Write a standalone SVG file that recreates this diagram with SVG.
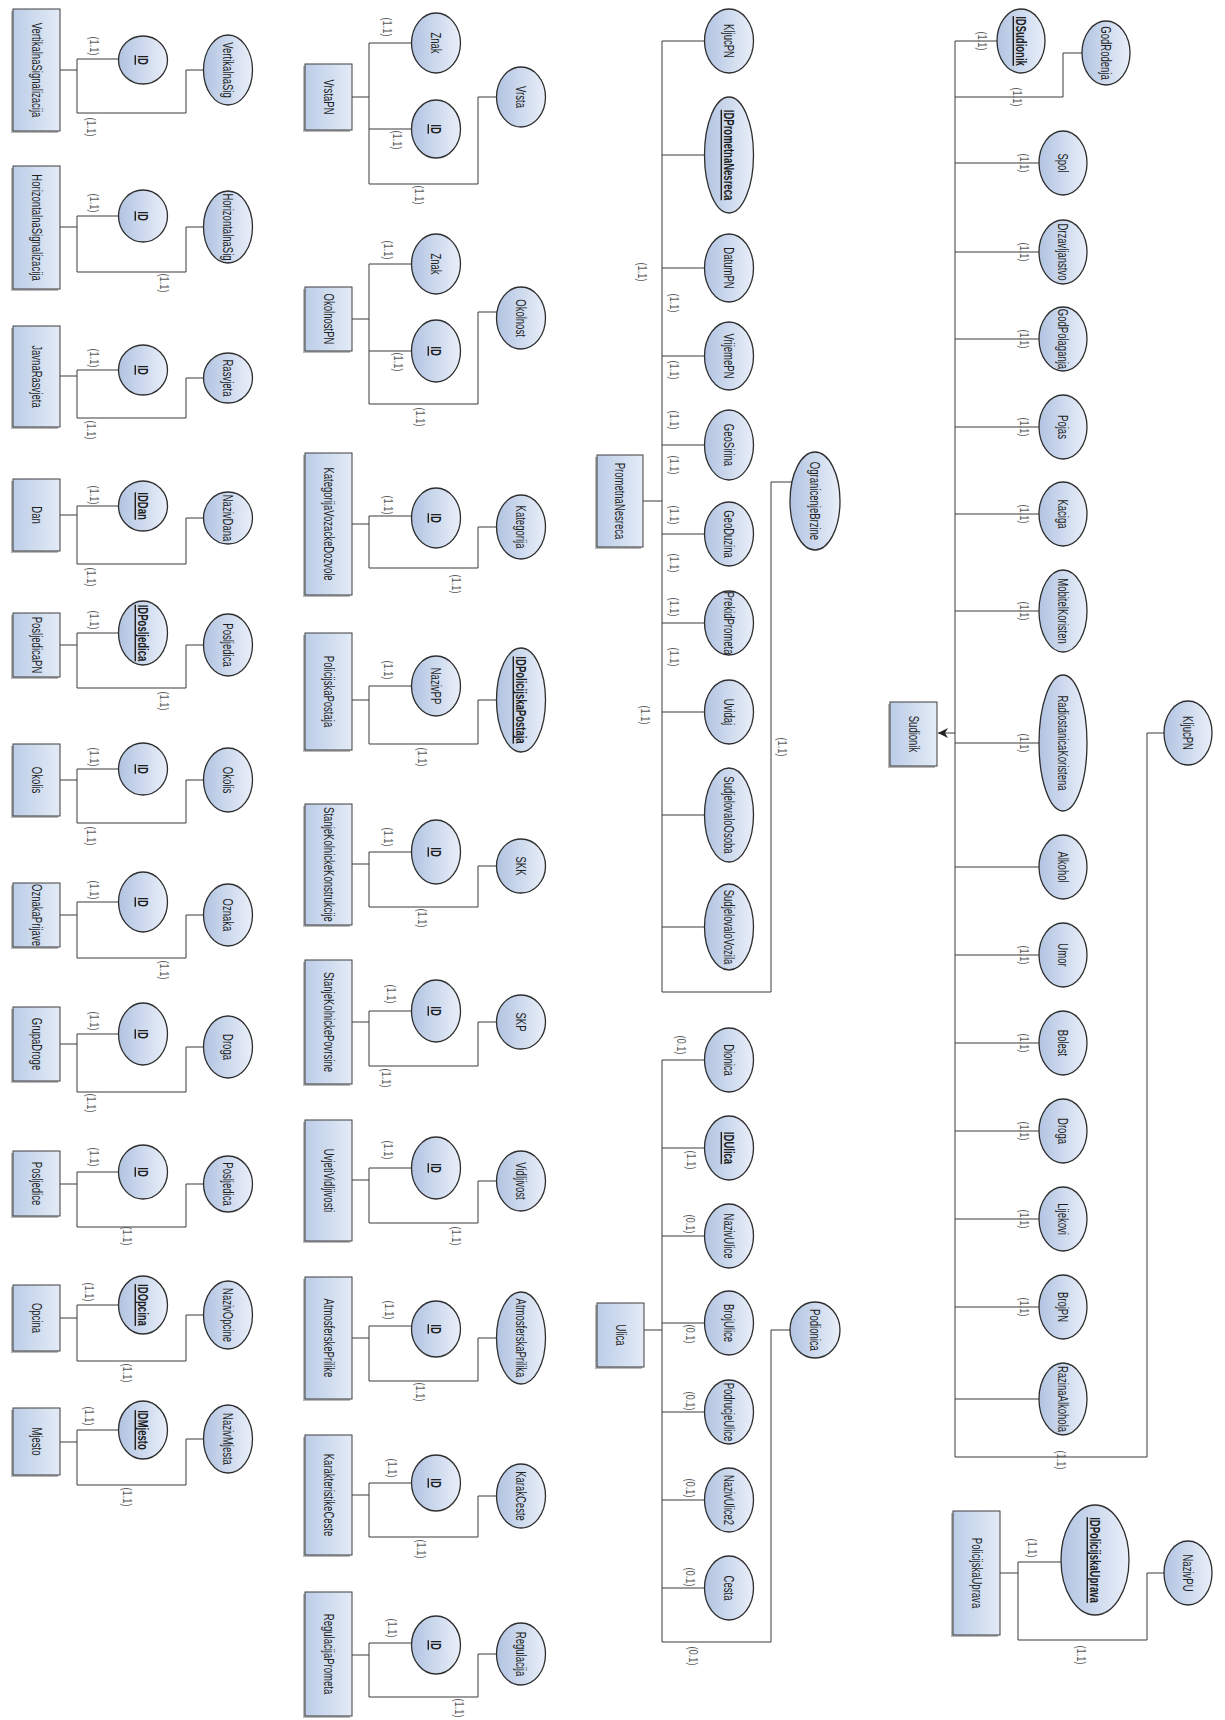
<svg xmlns="http://www.w3.org/2000/svg" width="1225" height="1720" viewBox="0 0 1225 1720">
<defs>
<linearGradient id="ga" x1="0" y1="0" x2="1" y2="0"><stop offset="0" stop-color="#b2c4e2"/><stop offset="1" stop-color="#e9eff9"/></linearGradient>
<linearGradient id="gb" x1="0" y1="0" x2="1" y2="0"><stop offset="0" stop-color="#bccde8"/><stop offset="1" stop-color="#e3ebf6"/></linearGradient>
<marker id="arr" viewBox="0 0 10 10" refX="10" refY="5" markerWidth="12" markerHeight="10" markerUnits="userSpaceOnUse" orient="auto"><path d="M0,0 L10,5 L0,10 L3,5 Z" fill="#222"/></marker>
<style>
.sh{fill:#7f7f7f;opacity:.55}
.bx{fill:url(#gb);stroke:#3f3f3f;stroke-width:1}
.at{fill:url(#ga);stroke:#2e2e2e;stroke-width:1.3}
.t{font-family:"Liberation Sans",Arial,sans-serif;font-size:14px;fill:#1e1e1e;text-anchor:middle;dominant-baseline:central}
.k{font-weight:bold;text-decoration:underline}
.c{font-family:"Liberation Sans",Arial,sans-serif;font-size:13px;fill:#5a5a5a;text-anchor:middle;dominant-baseline:central}
.ln{fill:none;stroke:#3a3a3a;stroke-width:1}
</style>
</defs>
<rect width="1225" height="1720" fill="#fff"/>

<g id="connectors" class="ln">
<!-- column 1 -->
<path d="M60 70H77M77 59V113M77 59H118.5M77 113H186V70H203.5"/>
<path d="M60 227H77M77 216V272M77 216H118.5M77 272H186V227H203.5"/>
<path d="M60 376H77M77 370V418M77 370H118.5M77 418H186V378H203.5"/>
<path d="M60 515H77M77 506V564M77 506H118.5M77 564H186V518H203.5"/>
<path d="M60 645H77M77 633V688M77 633H118.5M77 688H186V645H203.5"/>
<path d="M60 780H77M77 769V823M77 769H118.5M77 823H186V780H203.5"/>
<path d="M60 915H77M77 902V958M77 902H118.5M77 958H186V915H203.5"/>
<path d="M60 1044H77M77 1034V1092M77 1034H118.5M77 1092H186V1047H203.5"/>
<path d="M60 1184H77M77 1172V1227M77 1172H118.5M77 1227H186V1184H203.5"/>
<path d="M60 1318H77M77 1305V1361M77 1305H118.5M77 1361H186V1315H203.5"/>
<path d="M60 1442H77M77 1430V1485M77 1430H118.5M77 1485H186V1439H203.5"/>
<!-- column 2 -->
<path d="M352 97H369M369 43V184M369 43H412M369 129H412M369 184H478V97H497"/>
<path d="M352 319H369M369 264V404M369 264H412M369 351H412M369 404H478V312H497"/>
<path d="M352 524H369M369 516V568M369 516H412M369 568H478V527H497"/>
<path d="M352 700H369M369 686V744M369 686H412M369 744H478V700H497"/>
<path d="M352 864H369M369 852V907M369 852H412M369 907H478V866H497"/>
<path d="M352 1022H369M369 1011V1066M369 1011H412M369 1066H478V1022H497"/>
<path d="M352 1180H369M369 1168V1223M369 1168H412M369 1223H478V1181H497"/>
<path d="M352 1338H369M369 1326V1381M369 1326H412M369 1381H478V1338H497"/>
<path d="M352 1495H369M369 1483V1537M369 1483H412M369 1537H478V1496H497"/>
<path d="M352 1655H369M369 1643V1697M369 1643H412M369 1697H478V1654H497"/>
<!-- PrometnaNesreca -->
<path d="M643 501H662M662 41V992H771V482H792M662 41H704.5M662 155H704.5M662 268H704.5M662 356H704.5M662 445H704.5M662 534H704.5M662 623H704.5M662 712H704.5M662 815H704.5M662 927H704.5"/>
<!-- Ulica -->
<path d="M644 1330H662M662 1060V1642H771V1330H790M662 1060H704.5M662 1148H704.5M662 1236H704.5M662 1323H704.5M662 1412H704.5M662 1500H704.5M662 1588H704.5"/>
<!-- Sudionik -->
<path d="M955 41V1457H1147V733H1164M955 41H997M955 97H1063V53H1082M955 163H1039M955 252H1039M955 339H1039M955 427H1039M955 514H1039M955 611H1039M955 743H1039M955 867H1039M955 955H1039M955 1043H1039M955 1131H1039M955 1219H1039M955 1307H1039M955 1399H1039"/>
<path d="M955 733H938" marker-end="url(#arr)"/>
<!-- PolicijskaUprava -->
<path d="M1000 1573H1018M1018 1562V1640H1147V1573H1164M1018 1562H1061"/>
</g>

<g id="cardinalities">
<text class="c" transform="translate(95 46) rotate(90) scale(.72 1)">(1.1)</text>
<text class="c" transform="translate(92 127) rotate(90) scale(.72 1)">(1.1)</text>
<text class="c" transform="translate(95 203) rotate(90) scale(.72 1)">(1.1)</text>
<text class="c" transform="translate(165 283) rotate(90) scale(.72 1)">(1.1)</text>
<text class="c" transform="translate(95 358) rotate(90) scale(.72 1)">(1.1)</text>
<text class="c" transform="translate(92 430) rotate(90) scale(.72 1)">(1.1)</text>
<text class="c" transform="translate(95 495) rotate(90) scale(.72 1)">(1.1)</text>
<text class="c" transform="translate(92 577) rotate(90) scale(.72 1)">(1.1)</text>
<text class="c" transform="translate(95 620) rotate(90) scale(.72 1)">(1.1)</text>
<text class="c" transform="translate(165 701) rotate(90) scale(.72 1)">(1.1)</text>
<text class="c" transform="translate(95 757) rotate(90) scale(.72 1)">(1.1)</text>
<text class="c" transform="translate(92 836) rotate(90) scale(.72 1)">(1.1)</text>
<text class="c" transform="translate(95 890) rotate(90) scale(.72 1)">(1.1)</text>
<text class="c" transform="translate(165 970) rotate(90) scale(.72 1)">(1.1)</text>
<text class="c" transform="translate(95 1021) rotate(90) scale(.72 1)">(1.1)</text>
<text class="c" transform="translate(92 1103) rotate(90) scale(.72 1)">(1.1)</text>
<text class="c" transform="translate(95 1157) rotate(90) scale(.72 1)">(1.1)</text>
<text class="c" transform="translate(128 1236) rotate(90) scale(.72 1)">(1.1)</text>
<text class="c" transform="translate(90 1292) rotate(90) scale(.72 1)">(1.1)</text>
<text class="c" transform="translate(128 1373) rotate(90) scale(.72 1)">(1.1)</text>
<text class="c" transform="translate(90 1416) rotate(90) scale(.72 1)">(1.1)</text>
<text class="c" transform="translate(128 1497) rotate(90) scale(.72 1)">(1.1)</text>

<text class="c" transform="translate(388 27) rotate(90) scale(.72 1)">(1.1)</text>
<text class="c" transform="translate(398 140) rotate(90) scale(.72 1)">(1.1)</text>
<text class="c" transform="translate(420 195) rotate(90) scale(.72 1)">(1.1)</text>
<text class="c" transform="translate(389 250) rotate(90) scale(.72 1)">(1.1)</text>
<text class="c" transform="translate(399 362) rotate(90) scale(.72 1)">(1.1)</text>
<text class="c" transform="translate(421 417) rotate(90) scale(.72 1)">(1.1)</text>
<text class="c" transform="translate(389 505) rotate(90) scale(.72 1)">(1.1)</text>
<text class="c" transform="translate(457 584) rotate(90) scale(.72 1)">(1.1)</text>
<text class="c" transform="translate(389 670) rotate(90) scale(.72 1)">(1.1)</text>
<text class="c" transform="translate(423 757) rotate(90) scale(.72 1)">(1.1)</text>
<text class="c" transform="translate(389 837) rotate(90) scale(.72 1)">(1.1)</text>
<text class="c" transform="translate(423 918) rotate(90) scale(.72 1)">(1.1)</text>
<text class="c" transform="translate(392 994) rotate(90) scale(.72 1)">(1.1)</text>
<text class="c" transform="translate(387 1078) rotate(90) scale(.72 1)">(1.1)</text>
<text class="c" transform="translate(389 1150) rotate(90) scale(.72 1)">(1.1)</text>
<text class="c" transform="translate(457 1236) rotate(90) scale(.72 1)">(1.1)</text>
<text class="c" transform="translate(390 1310) rotate(90) scale(.72 1)">(1.1)</text>
<text class="c" transform="translate(421 1392) rotate(90) scale(.72 1)">(1.1)</text>
<text class="c" transform="translate(393 1468) rotate(90) scale(.72 1)">(1.1)</text>
<text class="c" transform="translate(422 1549) rotate(90) scale(.72 1)">(1.1)</text>
<text class="c" transform="translate(393 1628) rotate(90) scale(.72 1)">(1.1)</text>
<text class="c" transform="translate(460 1708) rotate(90) scale(.72 1)">(1.1)</text>

<text class="c" transform="translate(643 272) rotate(90) scale(.72 1)">(1.1)</text>
<text class="c" transform="translate(675 303) rotate(90) scale(.72 1)">(1.1)</text>
<text class="c" transform="translate(675 370) rotate(90) scale(.72 1)">(1.1)</text>
<text class="c" transform="translate(675 420) rotate(90) scale(.72 1)">(1.1)</text>
<text class="c" transform="translate(675 465) rotate(90) scale(.72 1)">(1.1)</text>
<text class="c" transform="translate(675 515) rotate(90) scale(.72 1)">(1.1)</text>
<text class="c" transform="translate(675 563) rotate(90) scale(.72 1)">(1.1)</text>
<text class="c" transform="translate(675 607) rotate(90) scale(.72 1)">(1.1)</text>
<text class="c" transform="translate(675 657) rotate(90) scale(.72 1)">(1.1)</text>
<text class="c" transform="translate(646 715) rotate(90) scale(.72 1)">(1.1)</text>
<text class="c" transform="translate(783 747) rotate(90) scale(.72 1)">(1.1)</text>

<text class="c" transform="translate(682 1045) rotate(90) scale(.72 1)">(0.1)</text>
<text class="c" transform="translate(692 1160) rotate(90) scale(.72 1)">(1.1)</text>
<text class="c" transform="translate(691 1224) rotate(90) scale(.72 1)">(0.1)</text>
<text class="c" transform="translate(691 1334) rotate(90) scale(.72 1)">(0.1)</text>
<text class="c" transform="translate(691 1401) rotate(90) scale(.72 1)">(0.1)</text>
<text class="c" transform="translate(691 1488) rotate(90) scale(.72 1)">(0.1)</text>
<text class="c" transform="translate(691 1577) rotate(90) scale(.72 1)">(0.1)</text>
<text class="c" transform="translate(694 1656) rotate(90) scale(.72 1)">(0.1)</text>

<text class="c" transform="translate(983 41) rotate(90) scale(.72 1)">(1.1)</text>
<text class="c" transform="translate(1018 97) rotate(90) scale(.72 1)">(1.1)</text>
<text class="c" transform="translate(1025 163) rotate(90) scale(.72 1)">(1.1)</text>
<text class="c" transform="translate(1025 252) rotate(90) scale(.72 1)">(1.1)</text>
<text class="c" transform="translate(1025 339) rotate(90) scale(.72 1)">(1.1)</text>
<text class="c" transform="translate(1025 427) rotate(90) scale(.72 1)">(1.1)</text>
<text class="c" transform="translate(1025 514) rotate(90) scale(.72 1)">(1.1)</text>
<text class="c" transform="translate(1025 611) rotate(90) scale(.72 1)">(1.1)</text>
<text class="c" transform="translate(1025 743) rotate(90) scale(.72 1)">(1.1)</text>
<text class="c" transform="translate(1025 955) rotate(90) scale(.72 1)">(1.1)</text>
<text class="c" transform="translate(1025 1043) rotate(90) scale(.72 1)">(1.1)</text>
<text class="c" transform="translate(1025 1131) rotate(90) scale(.72 1)">(1.1)</text>
<text class="c" transform="translate(1025 1219) rotate(90) scale(.72 1)">(1.1)</text>
<text class="c" transform="translate(1025 1307) rotate(90) scale(.72 1)">(1.1)</text>
<text class="c" transform="translate(1062 1460) rotate(90) scale(.72 1)">(1.1)</text>
<text class="c" transform="translate(1033 1548) rotate(90) scale(.72 1)">(1.1)</text>
<text class="c" transform="translate(1082 1655) rotate(90) scale(.72 1)">(1.1)</text>
</g>

<!-- ===== Column 1 ===== -->
<g id="VertikalnaSignalizacija">
<rect class="sh" x="11" y="11" width="47" height="122"/><rect class="bx" x="13" y="9" width="47" height="122"/>
<text class="t" transform="translate(36.5 70) rotate(90) scale(.68 1)">VertikalnaSignalizacija</text>
<ellipse class="at" cx="143" cy="60" rx="24.5" ry="24"/><text class="t k" transform="translate(143 60) rotate(90) scale(.68 1)">ID</text>
<ellipse class="at" cx="228" cy="70" rx="24.5" ry="35"/><text class="t" transform="translate(228 70) rotate(90) scale(.68 1)">VertikalnaSig</text>
</g>
<g id="HorizontalnaSignalizacija">
<rect class="sh" x="11" y="168" width="47" height="123"/><rect class="bx" x="13" y="166" width="47" height="123"/>
<text class="t" transform="translate(36.5 227.5) rotate(90) scale(.68 1)">HorizontalnaSignalizacija</text>
<ellipse class="at" cx="143" cy="216" rx="24.5" ry="26"/><text class="t k" transform="translate(143 216) rotate(90) scale(.68 1)">ID</text>
<ellipse class="at" cx="228" cy="227" rx="24.5" ry="36"/><text class="t" transform="translate(228 227) rotate(90) scale(.68 1)">HorizontalnaSig</text>
</g>
<g id="JavnaRasvjeta">
<rect class="sh" x="11" y="328" width="47" height="101"/><rect class="bx" x="13" y="326" width="47" height="101"/>
<text class="t" transform="translate(36.5 376.5) rotate(90) scale(.68 1)">JavnaRasvjeta</text>
<ellipse class="at" cx="143" cy="370" rx="24.5" ry="25"/><text class="t k" transform="translate(143 370) rotate(90) scale(.68 1)">ID</text>
<ellipse class="at" cx="228" cy="378" rx="24.5" ry="25"/><text class="t" transform="translate(228 378) rotate(90) scale(.68 1)">Rasvjeta</text>
</g>
<g id="Dan">
<rect class="sh" x="11" y="481" width="47" height="72"/><rect class="bx" x="13" y="479" width="47" height="72"/>
<text class="t" transform="translate(36.5 515) rotate(90) scale(.68 1)">Dan</text>
<ellipse class="at" cx="143" cy="506" rx="24.5" ry="25"/><text class="t k" transform="translate(143 506) rotate(90) scale(.68 1)">IDDan</text>
<ellipse class="at" cx="228" cy="518" rx="24.5" ry="26"/><text class="t" transform="translate(228 518) rotate(90) scale(.68 1)">NazivDana</text>
</g>
<g id="PosljedicaPN">
<rect class="sh" x="11" y="615" width="47" height="64"/><rect class="bx" x="13" y="613" width="47" height="64"/>
<text class="t" transform="translate(36.5 645) rotate(90) scale(.68 1)">PosljedicaPN</text>
<ellipse class="at" cx="143" cy="633" rx="24.5" ry="32"/><text class="t k" transform="translate(143 633) rotate(90) scale(.68 1)">IDPosljedica</text>
<ellipse class="at" cx="228" cy="645" rx="24.5" ry="31"/><text class="t" transform="translate(228 645) rotate(90) scale(.68 1)">Posljedica</text>
</g>
<g id="Okolis">
<rect class="sh" x="11" y="746" width="47" height="72"/><rect class="bx" x="13" y="744" width="47" height="72"/>
<text class="t" transform="translate(36.5 780) rotate(90) scale(.68 1)">Okolis</text>
<ellipse class="at" cx="143" cy="769" rx="24.5" ry="26"/><text class="t k" transform="translate(143 769) rotate(90) scale(.68 1)">ID</text>
<ellipse class="at" cx="228" cy="780" rx="24.5" ry="32"/><text class="t" transform="translate(228 780) rotate(90) scale(.68 1)">Okolis</text>
</g>
<g id="OznakaPrijave">
<rect class="sh" x="11" y="885" width="47" height="64"/><rect class="bx" x="13" y="883" width="47" height="64"/>
<text class="t" transform="translate(36.5 915) rotate(90) scale(.68 1)">OznakaPrijave</text>
<ellipse class="at" cx="143" cy="902" rx="24.5" ry="30"/><text class="t k" transform="translate(143 902) rotate(90) scale(.68 1)">ID</text>
<ellipse class="at" cx="228" cy="915" rx="24.5" ry="31"/><text class="t" transform="translate(228 915) rotate(90) scale(.68 1)">Oznaka</text>
</g>
<g id="GrupaDroge">
<rect class="sh" x="11" y="1009" width="47" height="74"/><rect class="bx" x="13" y="1007" width="47" height="74"/>
<text class="t" transform="translate(36.5 1044) rotate(90) scale(.68 1)">GrupaDroge</text>
<ellipse class="at" cx="143" cy="1034" rx="24.5" ry="31"/><text class="t k" transform="translate(143 1034) rotate(90) scale(.68 1)">ID</text>
<ellipse class="at" cx="228" cy="1047" rx="24.5" ry="31"/><text class="t" transform="translate(228 1047) rotate(90) scale(.68 1)">Droga</text>
</g>
<g id="Posljedice">
<rect class="sh" x="11" y="1153" width="47" height="65"/><rect class="bx" x="13" y="1151" width="47" height="65"/>
<text class="t" transform="translate(36.5 1183.5) rotate(90) scale(.68 1)">Posljedice</text>
<ellipse class="at" cx="143" cy="1172" rx="24.5" ry="27"/><text class="t k" transform="translate(143 1172) rotate(90) scale(.68 1)">ID</text>
<ellipse class="at" cx="228" cy="1184" rx="24.5" ry="28"/><text class="t" transform="translate(228 1184) rotate(90) scale(.68 1)">Posljedica</text>
</g>
<g id="Opcina">
<rect class="sh" x="11" y="1287" width="47" height="66"/><rect class="bx" x="13" y="1285" width="47" height="66"/>
<text class="t" transform="translate(36.5 1318) rotate(90) scale(.68 1)">Opcina</text>
<ellipse class="at" cx="143" cy="1305" rx="24.5" ry="29"/><text class="t k" transform="translate(143 1305) rotate(90) scale(.68 1)">IDOpcina</text>
<ellipse class="at" cx="228" cy="1315" rx="24.5" ry="34"/><text class="t" transform="translate(228 1315) rotate(90) scale(.68 1)">NazivOpcine</text>
</g>
<g id="Mjesto">
<rect class="sh" x="11" y="1410" width="47" height="67"/><rect class="bx" x="13" y="1408" width="47" height="67"/>
<text class="t" transform="translate(36.5 1441.5) rotate(90) scale(.68 1)">Mjesto</text>
<ellipse class="at" cx="143" cy="1430" rx="24.5" ry="29"/><text class="t k" transform="translate(143 1430) rotate(90) scale(.68 1)">IDMjesto</text>
<ellipse class="at" cx="228" cy="1439" rx="24.5" ry="34"/><text class="t" transform="translate(228 1439) rotate(90) scale(.68 1)">NazivMjesta</text>
</g>

<!-- ===== Column 2 ===== -->
<g id="VrstaPN">
<rect class="sh" x="303" y="66" width="47" height="66"/><rect class="bx" x="305" y="64" width="47" height="66"/>
<text class="t" transform="translate(328.5 97) rotate(90) scale(.68 1)">VrstaPN</text>
<ellipse class="at" cx="436" cy="43" rx="24.5" ry="30"/><text class="t" transform="translate(436 43) rotate(90) scale(.68 1)">Znak</text>
<ellipse class="at" cx="436" cy="129" rx="24.5" ry="29"/><text class="t k" transform="translate(436 129) rotate(90) scale(.68 1)">ID</text>
<ellipse class="at" cx="521" cy="97" rx="24.5" ry="30"/><text class="t" transform="translate(521 97) rotate(90) scale(.68 1)">Vrsta</text>
</g>
<g id="OkolnostPN">
<rect class="sh" x="303" y="289" width="47" height="64"/><rect class="bx" x="305" y="287" width="47" height="64"/>
<text class="t" transform="translate(328.5 319) rotate(90) scale(.68 1)">OkolnostPN</text>
<ellipse class="at" cx="436" cy="264" rx="24.5" ry="30"/><text class="t" transform="translate(436 264) rotate(90) scale(.68 1)">Znak</text>
<ellipse class="at" cx="436" cy="351" rx="24.5" ry="31"/><text class="t k" transform="translate(436 351) rotate(90) scale(.68 1)">ID</text>
<ellipse class="at" cx="521" cy="318" rx="24.5" ry="31"/><text class="t" transform="translate(521 318) rotate(90) scale(.68 1)">Okolnost</text>
</g>
<g id="KategorijaVozackeDozvole">
<rect class="sh" x="303" y="455" width="47" height="142"/><rect class="bx" x="305" y="453" width="47" height="142"/>
<text class="t" transform="translate(328.5 524) rotate(90) scale(.68 1)">KategorijaVozackeDozvole</text>
<ellipse class="at" cx="436" cy="518" rx="24.5" ry="30"/><text class="t k" transform="translate(436 518) rotate(90) scale(.68 1)">ID</text>
<ellipse class="at" cx="521" cy="527" rx="24.5" ry="32"/><text class="t" transform="translate(521 527) rotate(90) scale(.68 1)">Kategorija</text>
</g>
<g id="PolicijskaPostaja">
<rect class="sh" x="303" y="635" width="47" height="117"/><rect class="bx" x="305" y="633" width="47" height="117"/>
<text class="t" transform="translate(328.5 691.5) rotate(90) scale(.68 1)">PolicijskaPostaja</text>
<ellipse class="at" cx="436" cy="686" rx="24.5" ry="30"/><text class="t" transform="translate(436 686) rotate(90) scale(.68 1)">NazivPP</text>
<ellipse class="at" cx="521" cy="700" rx="24.5" ry="52"/><text class="t k" transform="translate(521 700) rotate(90) scale(.68 1)">IDPolicijskaPostaja</text>
</g>
<g id="StanjeKolnickeKonstrukcije">
<rect class="sh" x="303" y="806" width="47" height="121"/><rect class="bx" x="305" y="804" width="47" height="121"/>
<text class="t" transform="translate(328.5 864.5) rotate(90) scale(.68 1)">StanjeKolnickeKonstrukcije</text>
<ellipse class="at" cx="436" cy="852" rx="24.5" ry="32"/><text class="t k" transform="translate(436 852) rotate(90) scale(.68 1)">ID</text>
<ellipse class="at" cx="521" cy="866" rx="24.5" ry="27"/><text class="t" transform="translate(521 866) rotate(90) scale(.68 1)">SKK</text>
</g>
<g id="StanjeKolnickePovrsine">
<rect class="sh" x="303" y="962" width="47" height="124"/><rect class="bx" x="305" y="960" width="47" height="124"/>
<text class="t" transform="translate(328.5 1022) rotate(90) scale(.68 1)">StanjeKolnickePovrsine</text>
<ellipse class="at" cx="436" cy="1011" rx="24.5" ry="31"/><text class="t k" transform="translate(436 1011) rotate(90) scale(.68 1)">ID</text>
<ellipse class="at" cx="521" cy="1022" rx="24.5" ry="27"/><text class="t" transform="translate(521 1022) rotate(90) scale(.68 1)">SKP</text>
</g>
<g id="UvjetiVidljivosti">
<rect class="sh" x="303" y="1122" width="47" height="121"/><rect class="bx" x="305" y="1120" width="47" height="121"/>
<text class="t" transform="translate(328.5 1180.5) rotate(90) scale(.68 1)">UvjetiVidljivosti</text>
<ellipse class="at" cx="436" cy="1168" rx="24.5" ry="31"/><text class="t k" transform="translate(436 1168) rotate(90) scale(.68 1)">ID</text>
<ellipse class="at" cx="521" cy="1181" rx="24.5" ry="30"/><text class="t" transform="translate(521 1181) rotate(90) scale(.68 1)">Vidljivost</text>
</g>
<g id="AtmosferskePrilike">
<rect class="sh" x="303" y="1279" width="47" height="122"/><rect class="bx" x="305" y="1277" width="47" height="122"/>
<text class="t" transform="translate(328.5 1338) rotate(90) scale(.68 1)">AtmosferskePrilike</text>
<ellipse class="at" cx="436" cy="1329" rx="24.5" ry="28"/><text class="t k" transform="translate(436 1329) rotate(90) scale(.68 1)">ID</text>
<ellipse class="at" cx="521" cy="1338" rx="24.5" ry="46"/><text class="t" transform="translate(521 1338) rotate(90) scale(.68 1)">AtmosferskaPrilika</text>
</g>
<g id="KarakteristikeCeste">
<rect class="sh" x="303" y="1437" width="47" height="120"/><rect class="bx" x="305" y="1435" width="47" height="120"/>
<text class="t" transform="translate(328.5 1495) rotate(90) scale(.68 1)">KarakteristikeCeste</text>
<ellipse class="at" cx="436" cy="1483" rx="24.5" ry="28"/><text class="t k" transform="translate(436 1483) rotate(90) scale(.68 1)">ID</text>
<ellipse class="at" cx="521" cy="1496" rx="24.5" ry="32"/><text class="t" transform="translate(521 1496) rotate(90) scale(.68 1)">KarakCeste</text>
</g>
<g id="RegulacijaPrometa">
<rect class="sh" x="303" y="1594" width="47" height="124"/><rect class="bx" x="305" y="1592" width="47" height="124"/>
<text class="t" transform="translate(328.5 1654) rotate(90) scale(.68 1)">RegulacijaPrometa</text>
<ellipse class="at" cx="436" cy="1645" rx="24.5" ry="29"/><text class="t k" transform="translate(436 1645) rotate(90) scale(.68 1)">ID</text>
<ellipse class="at" cx="521" cy="1654" rx="24.5" ry="31"/><text class="t" transform="translate(521 1654) rotate(90) scale(.68 1)">Regulacija</text>
</g>

<!-- ===== PrometnaNesreca ===== -->
<g id="PrometnaNesreca">
<rect class="sh" x="595" y="457" width="46" height="92"/><rect class="bx" x="597" y="455" width="46" height="92"/>
<text class="t" transform="translate(620 501) rotate(90) scale(.68 1)">PrometnaNesreca</text>
<ellipse class="at" cx="729" cy="41" rx="24.5" ry="32"/><text class="t" transform="translate(729 41) rotate(90) scale(.68 1)">KljucPN</text>
<ellipse class="at" cx="729" cy="155" rx="24.5" ry="58"/><text class="t k" transform="translate(729 155) rotate(90) scale(.68 1)">IDPrometnaNesreca</text>
<ellipse class="at" cx="729" cy="268" rx="24.5" ry="34"/><text class="t" transform="translate(729 268) rotate(90) scale(.68 1)">DatumPN</text>
<ellipse class="at" cx="729" cy="356" rx="24.5" ry="34"/><text class="t" transform="translate(729 356) rotate(90) scale(.68 1)">VrijemePN</text>
<ellipse class="at" cx="729" cy="445" rx="24.5" ry="35"/><text class="t" transform="translate(729 445) rotate(90) scale(.68 1)">GeoSirina</text>
<ellipse class="at" cx="729" cy="534" rx="24.5" ry="32"/><text class="t" transform="translate(729 534) rotate(90) scale(.68 1)">GeoDuzina</text>
<ellipse class="at" cx="729" cy="623" rx="24.5" ry="32"/><text class="t" transform="translate(729 623) rotate(90) scale(.68 1)">PrekidPrometa</text>
<ellipse class="at" cx="729" cy="712" rx="24.5" ry="32"/><text class="t" transform="translate(729 712) rotate(90) scale(.68 1)">Uvidaj</text>
<ellipse class="at" cx="729" cy="815" rx="24.5" ry="47"/><text class="t" transform="translate(729 815) rotate(90) scale(.68 1)">SudjelovaloOsoba</text>
<ellipse class="at" cx="729" cy="927" rx="24.5" ry="43"/><text class="t" transform="translate(729 927) rotate(90) scale(.68 1)">SudjelovaloVozila</text>
<ellipse class="at" cx="815" cy="501" rx="25" ry="49"/><text class="t" transform="translate(815 501) rotate(90) scale(.68 1)">OgranicenjeBrzine</text>
</g>

<!-- ===== Ulica ===== -->
<g id="Ulica">
<rect class="sh" x="595" y="1305" width="47" height="64"/><rect class="bx" x="597" y="1303" width="47" height="64"/>
<text class="t" transform="translate(620.5 1335) rotate(90) scale(.68 1)">Ulica</text>
<ellipse class="at" cx="729" cy="1060" rx="24.5" ry="32"/><text class="t" transform="translate(729 1060) rotate(90) scale(.68 1)">Dionica</text>
<ellipse class="at" cx="729" cy="1148" rx="24.5" ry="32"/><text class="t k" transform="translate(729 1148) rotate(90) scale(.68 1)">IDUlica</text>
<ellipse class="at" cx="729" cy="1236" rx="24.5" ry="32"/><text class="t" transform="translate(729 1236) rotate(90) scale(.68 1)">NazivUlice</text>
<ellipse class="at" cx="729" cy="1323" rx="24.5" ry="32"/><text class="t" transform="translate(729 1323) rotate(90) scale(.68 1)">BrojUlice</text>
<ellipse class="at" cx="729" cy="1412" rx="24.5" ry="32"/><text class="t" transform="translate(729 1412) rotate(90) scale(.68 1)">PodrucjeUlice</text>
<ellipse class="at" cx="729" cy="1500" rx="24.5" ry="32"/><text class="t" transform="translate(729 1500) rotate(90) scale(.68 1)">NazivUlice2</text>
<ellipse class="at" cx="729" cy="1588" rx="24.5" ry="32"/><text class="t" transform="translate(729 1588) rotate(90) scale(.68 1)">Cesta</text>
<ellipse class="at" cx="815" cy="1330" rx="25" ry="28"/><text class="t" transform="translate(815 1330) rotate(90) scale(.68 1)">Podionica</text>
</g>

<!-- ===== Sudionik ===== -->
<g id="Sudionik">
<rect class="sh" x="888" y="704" width="47" height="64"/><rect class="bx" x="890" y="702" width="47" height="64"/>
<text class="t" transform="translate(913.5 734) rotate(90) scale(.68 1)">Sudionik</text>
<ellipse class="at" cx="1021" cy="41" rx="24" ry="32"/><text class="t k" transform="translate(1021 41) rotate(90) scale(.68 1)">IDSudionik</text>
<ellipse class="at" cx="1106" cy="53" rx="24" ry="32"/><text class="t" transform="translate(1106 53) rotate(90) scale(.68 1)">GodRodenja</text>
<ellipse class="at" cx="1063" cy="163" rx="24" ry="32"/><text class="t" transform="translate(1063 163) rotate(90) scale(.68 1)">Spol</text>
<ellipse class="at" cx="1063" cy="252" rx="24" ry="32"/><text class="t" transform="translate(1063 252) rotate(90) scale(.68 1)">Drzavljanstvo</text>
<ellipse class="at" cx="1063" cy="339" rx="24" ry="32"/><text class="t" transform="translate(1063 339) rotate(90) scale(.68 1)">GodPolaganja</text>
<ellipse class="at" cx="1063" cy="427" rx="24" ry="32"/><text class="t" transform="translate(1063 427) rotate(90) scale(.68 1)">Pojas</text>
<ellipse class="at" cx="1063" cy="514" rx="24" ry="32"/><text class="t" transform="translate(1063 514) rotate(90) scale(.68 1)">Kaciga</text>
<ellipse class="at" cx="1063" cy="611" rx="24" ry="41"/><text class="t" transform="translate(1063 611) rotate(90) scale(.68 1)">MobitelKoristen</text>
<ellipse class="at" cx="1063" cy="743" rx="24" ry="68"/><text class="t" transform="translate(1063 743) rotate(90) scale(.68 1)">RadiostanicaKoristena</text>
<ellipse class="at" cx="1063" cy="867" rx="24" ry="32"/><text class="t" transform="translate(1063 867) rotate(90) scale(.68 1)">Alkohol</text>
<ellipse class="at" cx="1063" cy="955" rx="24" ry="32"/><text class="t" transform="translate(1063 955) rotate(90) scale(.68 1)">Umor</text>
<ellipse class="at" cx="1063" cy="1043" rx="24" ry="32"/><text class="t" transform="translate(1063 1043) rotate(90) scale(.68 1)">Bolest</text>
<ellipse class="at" cx="1063" cy="1131" rx="24" ry="32"/><text class="t" transform="translate(1063 1131) rotate(90) scale(.68 1)">Droga</text>
<ellipse class="at" cx="1063" cy="1219" rx="24" ry="32"/><text class="t" transform="translate(1063 1219) rotate(90) scale(.68 1)">Lijekovi</text>
<ellipse class="at" cx="1063" cy="1307" rx="24" ry="32"/><text class="t" transform="translate(1063 1307) rotate(90) scale(.68 1)">BrojPN</text>
<ellipse class="at" cx="1063" cy="1399" rx="24" ry="36"/><text class="t" transform="translate(1063 1399) rotate(90) scale(.68 1)">RazinaAlkohola</text>
<ellipse class="at" cx="1188" cy="733" rx="24" ry="32"/><text class="t" transform="translate(1188 733) rotate(90) scale(.68 1)">KljucPN</text>
</g>

<!-- ===== PolicijskaUprava ===== -->
<g id="PolicijskaUprava">
<rect class="sh" x="951" y="1513" width="47" height="124"/><rect class="bx" x="953" y="1511" width="47" height="124"/>
<text class="t" transform="translate(976.5 1573) rotate(90) scale(.68 1)">PolicijskaUprava</text>
<ellipse class="at" cx="1095" cy="1560" rx="34" ry="55"/><text class="t k" transform="translate(1095 1560) rotate(90) scale(.68 1)">IDPolicijskaUprava</text>
<ellipse class="at" cx="1188" cy="1573" rx="24" ry="32"/><text class="t" transform="translate(1188 1573) rotate(90) scale(.68 1)">NazivPU</text>
</g>
</svg>
